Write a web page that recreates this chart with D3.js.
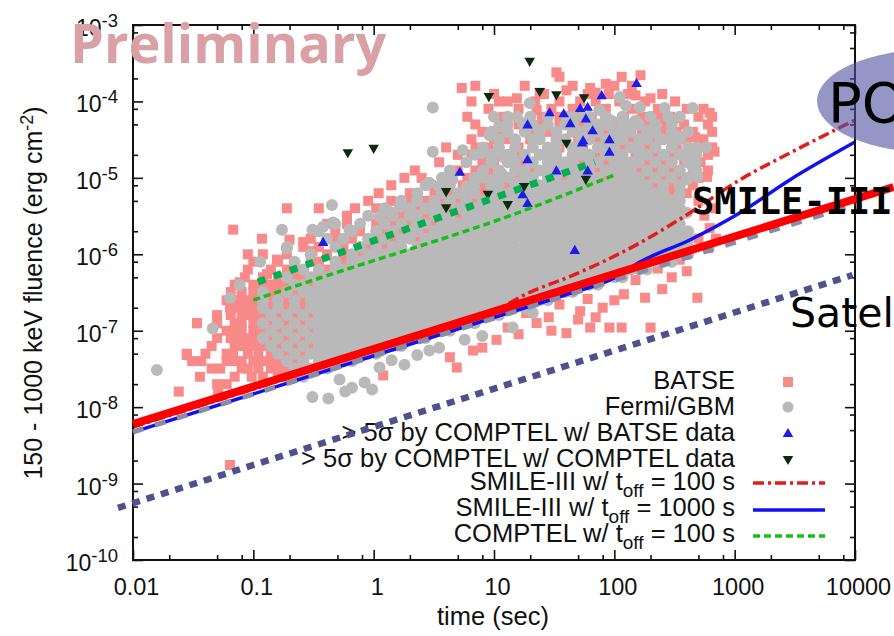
<!DOCTYPE html>
<html>
<head>
<meta charset="utf-8">
<script src="https://cdn.jsdelivr.net/npm/d3@7"></script>
<style>
  body { margin: 0; background: #fff; }
  svg { display: block; }
</style>
</head>
<body>
<svg id="chart" width="894" height="636"></svg>
<script>
// ---------- axis ticks ----------
const xTicks = [0.01, 0.1, 1, 10, 100, 1000, 10000];
const xTickLabels = ["0.01", "0.1", "1", "10", "100", "1000", "10000"];
const yTicks = [1e-10, 1e-9, 1e-8, 1e-7, 1e-6, 1e-5, 1e-4, 1e-3];
const yTickExponents = ["-10", "-9", "-8", "-7", "-6", "-5", "-4", "-3"];
const minorMultipliers = [2, 5, 8];

// ---------- BATSE bursts (time [s], fluence [erg cm^-2]) ----------
// grouped by fluence level: [fluence, [durations]]
const batseRows = [
  [1.6e-4, [7, 18, 45, 100, 140]],
  [1.25e-4, [10, 26, 60, 90, 130, 250]],
  [1e-4, [6.5, 11, 22, 35, 70, 110, 180, 320]],
  [8e-5, [9, 16, 30, 45, 85, 140, 230, 400, 550]],
  [6.3e-5, [6, 12, 25, 35, 50, 65, 120, 170, 210, 290, 500, 650]],
  [5e-5, [7, 16, 25, 35, 55, 75, 100, 140, 190, 270, 380, 600]],
  [4e-5, [8, 11, 22, 28, 45, 65, 85, 120, 170, 250, 330, 450, 650]],
  [3.2e-5, [6.5, 10, 13, 20, 33, 50, 75, 100, 140, 220, 300, 400, 550]],
  [2.5e-5, [4, 7, 9, 16, 35, 55, 85, 120, 190, 330, 500, 650]],
  [2e-5, [5, 6.5, 12, 15, 28, 45, 70, 100, 150, 220, 300, 450, 600]],
  [1.6e-5, [3.5, 8, 10, 17, 35, 55, 85, 120, 190, 260, 380, 520]],
  [1.25e-5, [2.2, 5, 7, 9, 20, 33, 45, 75, 100, 160, 220, 300, 450, 600]],
  [1e-5, [1.8, 2.5, 4.5, 6, 10.5, 15, 28, 39, 62, 85, 137, 187, 256, 350, 500]],
  [8e-6, [1.4, 3, 4, 5.5, 8, 13, 21, 33, 117, 220, 300, 450]],
  [6.3e-6, [1.1, 2, 3.2, 4.3, 5.9, 8.1, 11, 21, 300, 400]],
  [5e-6, [0.9, 1.4, 2, 2.7, 3.7, 5, 6.9, 9.5, 13, 18]],
  [4e-6, [0.35, 0.7, 1.05, 1.7, 2.3, 3.2, 4.3, 5.9, 8.1]],
  [3.2e-6, [0.6, 1.23, 1.7, 2.7, 3.7, 5, 6.9]],
  [2.5e-6, [0.41, 0.6, 1.05, 1.44, 2, 3.2, 4.3, 5.9]],
  [2e-6, [0.48, 0.77, 1.23, 1.7, 2.7, 3.7]],
  [1.6e-6, [0.3, 0.48, 0.66, 1.05, 1.44, 2.3]],
  [1.25e-6, [0.26, 0.35, 0.56, 0.9, 1.23]],
  [1e-6, [0.12, 0.19, 0.41, 0.56, 0.77, 1.05]],
  [8e-7, [0.1, 0.16, 0.3, 0.35, 0.56, 0.66]],
  [6.3e-7, [0.09, 0.14, 0.19, 0.22, 0.41]],
  [5e-7, [0.085, 0.12, 0.16, 0.22, 0.26, 0.35]],
  [4e-7, [0.07, 0.1, 0.12, 0.14, 0.16, 0.19, 0.3]],
  [3.2e-7, [0.065, 0.08, 0.1, 0.14, 0.16, 0.22]],
  [2.5e-7, [0.06, 0.07, 0.08, 0.09, 0.1, 0.14, 0.19, 0.26]],
  [2e-7, [0.064, 0.075, 0.085, 0.1, 0.11, 0.14, 0.19, 0.26, 0.35]],
  [1.6e-7, [0.05, 0.065, 0.08, 0.09, 0.1, 0.12, 0.16, 0.22, 0.3]],
  [1.25e-7, [0.034, 0.05, 0.07, 0.08, 0.1, 0.11, 0.14, 0.19, 0.26]],
  [1e-7, [0.06, 0.07, 0.08, 0.1, 0.118, 0.16, 0.22, 0.3]],
  [8e-8, [0.05, 0.065, 0.077, 0.09, 0.1, 0.14, 0.19, 0.26]],
  [6.3e-8, [0.045, 0.07, 0.08, 0.09, 0.1, 0.12, 0.16, 0.22, 0.3]],
  [5e-8, [0.028, 0.04, 0.06, 0.068, 0.09, 0.11, 0.14, 0.19, 0.26]],
  [4e-8, [0.031, 0.037, 0.06, 0.07, 0.08, 0.1, 0.12, 0.14, 0.16, 0.22]],
  [3.2e-8, [0.045, 0.053, 0.08, 0.09, 0.11, 0.14, 0.16, 0.19, 0.26]],
  [2.5e-8, [0.036, 0.07, 0.097, 0.12, 0.16, 0.19, 0.22]],
  [2e-8, [0.05, 0.06]],
  [1.6e-8, [0.024, 0.051]]
];
const batsePoints = [
  [0.064, 1.75e-9],
  [0.19, 4e-6], [0.068, 2.1e-6], [0.118, 1.6e-6], [0.2, 1.55e-6], [0.26, 1.45e-6], [0.31, 1.1e-6],
  [0.09, 1e-6], [0.157, 8.5e-7], [0.077, 4.3e-7], [0.13, 5.5e-7], [0.034, 1.26e-7], [0.028, 4.8e-8],
  [5.4, 1.5e-4], [15.5, 1.1e-4], [33, 2.4e-4], [35, 2.1e-4], [115, 2.1e-4], [165, 2.2e-4],
  [22.6, 7.7e-5], [63, 1.5e-4], [70, 1.3e-4], [200, 1.1e-4], [620, 7.1e-5], [680, 2.2e-5],
  [470, 3.4e-5], [590, 1.03e-5], [52, 1e-4], [13, 1e-4], [150, 1.2e-4], [85, 1.7e-4], [40, 1.4e-4],
  [24, 1.3e-4], [240, 6e-5], [330, 6e-5], [500, 5e-6], [197, 1e-6], [366, 1e-6], [560, 3.2e-6],
  [500, 1.6e-6], [620, 2.2e-6], [690, 4e-6],
  [490, 2.7e-7], [150, 4.6e-7], [200, 1.1e-7], [91, 1.1e-7], [63, 1.1e-7], [80, 2e-7],
  [40, 9.3e-8], [22.6, 1.26e-7], [13, 1.1e-7], [10.5, 7.6e-8], [6.7, 5.5e-8], [4.3, 4.5e-8],
  [4.9, 3.3e-8], [28.5, 1.5e-7], [18.5, 1.7e-7], [52, 1.8e-7], [115, 1.1e-7], [15.5, 2.5e-7],
  [1.2, 2.6e-8], [30, 1e-7], [50, 1.4e-7], [70, 1.5e-7], [100, 2.5e-7], [120, 3e-7],
  [180, 2.7e-7], [250, 3.5e-7], [300, 5e-7], [400, 6e-7], [8, 6e-8], [16, 9e-8], [35, 2.2e-7],
  [60, 2.6e-7], [230, 6.5e-7], [350, 8.5e-7], [600, 1.2e-6], [700, 1.6e-6]
];

// ---------- Fermi/GBM bursts ----------
const gbmRows = [
  [6.3e-5, [10, 20, 28, 45, 62, 85, 117, 200, 280, 350]],
  [5e-5, [13, 18, 21, 28, 39, 45, 62, 73, 85, 117, 137, 160, 220, 300]],
  [4e-5, [9.5, 13, 18, 24, 33, 45, 53, 73, 100, 117, 137, 187, 220, 300, 410]],
  [3.2e-5, [11, 15, 21, 24, 33, 39, 53, 62, 85, 100, 117, 160, 187, 256, 350]],
  [2.5e-5, [8.1, 11, 15, 21, 28, 33, 45, 53, 73, 85, 100, 137, 160, 220, 300, 410, 480]],
  [2e-5, [6.9, 9.5, 13, 18, 24, 28, 33, 45, 53, 62, 85, 100, 117, 160, 187, 256, 350, 480]],
  [1.6e-5, [5.9, 9.5, 13, 15, 21, 28, 33, 39, 45, 62, 73, 100, 117, 137, 160, 220, 300, 410]],
  [1.25e-5, [4.3, 8.1, 11, 15, 18, 24, 28, 39, 45, 53, 62, 85, 100, 117, 137, 187, 256, 350, 480]],
  [1e-5, [3.7, 6.9, 8.1, 11, 13, 18, 21, 28, 33, 45, 53, 62, 73, 100, 117, 137, 160, 220, 300, 410]],
  [8e-6, [2.7, 4.3, 6.9, 9.5, 11, 15, 18, 21, 24, 28, 33, 39, 45, 53, 62, 73, 85, 100, 117, 137, 160, 187, 256, 350]],
  [6.3e-6, [2.3, 3.7, 5, 6.9, 9.5, 11, 13, 15, 18, 21, 24, 28, 33, 39, 45, 53, 62, 73, 85, 100, 117, 137, 160, 187, 220, 256, 350]],
  [5e-6, [1.7, 2.3, 3.2, 4.3, 5.9, 8.1, 9.5, 11, 13, 15, 18, 21, 24, 28, 33, 39, 45, 53, 62, 73, 85, 100, 117, 137, 160, 187, 220, 256, 300]],
  [4e-6, [1.23, 2, 2.7, 3.2, 3.7, 5, 5.9, 6.9, 8.1, 9.5, 11, 13, 15, 18, 21, 24, 28, 33, 39, 45, 53, 62, 73, 85, 100, 117, 137, 160, 187, 220, 256, 300, 350]],
  [3.2e-6, [0.9, 1.44, 2, 2.3, 3.2, 3.7, 4.3, 5.9, 6.9, 8.1, 9.5, 11, 13, 15, 18, 21, 24, 28, 33, 39, 45, 53, 62, 73, 85, 100, 117, 137, 160, 187, 220, 256, 300, 350]],
  [2.5e-6, [0.48, 0.77, 1.23, 1.7, 2.3, 2.7, 3.7, 4.3, 5, 5.9, 6.9, 8.1, 9.5, 11, 13, 15, 18, 21, 24, 28, 33, 39, 45, 53, 62, 73, 85, 100, 117, 137, 160, 187, 220, 256, 300, 350]],
  [2e-6, [0.35, 0.66, 1.05, 1.44, 2, 2.3, 3.2, 3.7, 4.3, 5, 5.9, 6.9, 8.1, 9.5, 11, 13, 15, 18, 21, 24, 28, 33, 39, 45, 53, 62, 73, 85, 100, 117, 137, 160, 187, 220, 256, 300, 350, 410]],
  [1.6e-6, [0.41, 0.56, 0.9, 1.23, 1.7, 2, 2.7, 3.2, 3.7, 4.3, 5, 5.9, 6.9, 8.1, 9.5, 11, 13, 15, 18, 21, 24, 28, 33, 39, 45, 53, 62, 73, 85, 100, 117, 137, 160, 187, 220, 256, 300, 350, 410]],
  [1.25e-6, [0.19, 0.48, 0.77, 1.05, 1.44, 1.7, 2.3, 2.7, 3.2, 3.7, 4.3, 5, 5.9, 6.9, 8.1, 9.5, 11, 13, 15, 18, 21, 24, 28, 33, 39, 45, 53, 62, 73, 85, 100, 117, 137, 160, 187, 220, 256, 300, 350, 410]],
  [1e-6, [0.3, 0.66, 0.9, 1.05, 1.23, 1.44, 1.7, 2, 2.3, 2.7, 3.2, 3.7, 4.3, 5, 5.9, 6.9, 8.1, 9.5, 11, 13, 15, 18, 21, 24, 28, 33, 39, 45, 53, 62, 73, 85, 100, 117, 137, 160, 187, 220, 256, 300, 350, 410]],
  [8e-7, [0.114, 0.22, 0.48, 0.66, 0.77, 0.9, 1.05, 1.23, 1.44, 1.7, 2, 2.3, 2.7, 3.2, 3.7, 4.3, 5, 5.9, 6.9, 8.1, 9.5, 11, 13, 15, 18, 21, 24, 28, 33, 39, 45, 53, 62, 73, 85, 100, 117, 137, 160, 187, 220, 256, 300]],
  [6.3e-7, [0.26, 0.35, 0.48, 0.56, 0.66, 0.77, 0.9, 1.05, 1.23, 1.44, 1.7, 2, 2.3, 2.7, 3.2, 3.7, 4.3, 5, 5.9, 6.9, 8.1, 9.5, 11, 13, 15, 18, 21, 24, 28, 33, 39, 45, 53, 62, 73, 85, 100, 117, 137, 160, 187]],
  [5e-7, [0.19, 0.3, 0.41, 0.48, 0.56, 0.66, 0.77, 0.9, 1.05, 1.23, 1.44, 1.7, 2, 2.3, 2.7, 3.2, 3.7, 4.3, 5, 5.9, 6.9, 8.1, 9.5, 11, 13, 15, 18, 21, 24, 28, 33, 39, 45, 53, 62, 73, 85, 100, 117]],
  [4e-7, [0.077, 0.22, 0.26, 0.35, 0.41, 0.48, 0.56, 0.66, 0.77, 0.9, 1.05, 1.23, 1.44, 1.7, 2, 2.3, 2.7, 3.2, 3.7, 4.3, 5, 5.9, 6.9, 8.1, 9.5, 11, 13, 15, 18, 21, 24, 28, 33, 39, 45, 53, 62, 73]],
  [3.2e-7, [0.12, 0.19, 0.26, 0.3, 0.35, 0.41, 0.48, 0.56, 0.66, 0.77, 0.9, 1.05, 1.23, 1.44, 1.7, 2, 2.3, 2.7, 3.2, 3.7, 4.3, 5, 5.9, 6.9, 8.1, 9.5, 11, 13, 15, 18, 21, 24, 28, 33, 39, 45]],
  [2.5e-7, [0.12, 0.16, 0.22, 0.3, 0.35, 0.41, 0.48, 0.56, 0.66, 0.77, 0.9, 1.05, 1.23, 1.44, 1.7, 2, 2.3, 2.7, 3.2, 3.7, 4.3, 5, 5.9, 6.9, 8.1, 9.5, 11, 13, 15, 18, 21, 24, 28]],
  [2e-7, [0.12, 0.16, 0.22, 0.3, 0.35, 0.41, 0.48, 0.56, 0.66, 0.77, 0.9, 1.05, 1.23, 1.44, 1.7, 2, 2.3, 2.7, 3.2, 3.7, 4.3, 5, 5.9, 6.9, 8.1, 9.5, 11, 13, 15, 18]],
  [1.6e-7, [0.14, 0.19, 0.26, 0.35, 0.41, 0.48, 0.56, 0.66, 0.77, 0.9, 1.05, 1.23, 1.44, 1.7, 2, 2.3, 2.7, 3.2, 3.7, 4.3, 5, 5.9, 6.9, 8.1, 9.5, 11]],
  [1.25e-7, [0.12, 0.16, 0.22, 0.3, 0.35, 0.41, 0.48, 0.56, 0.66, 0.77, 0.9, 1.05, 1.23, 1.44, 1.7, 2, 2.3, 2.7, 3.2, 3.7, 4.3, 5, 5.9, 6.9]],
  [1e-7, [0.14, 0.19, 0.26, 0.35, 0.41, 0.48, 0.56, 0.66, 0.77, 0.9, 1.05, 1.23, 1.44, 1.7, 2, 2.3, 2.7, 3.2, 3.7, 4.3]],
  [8e-8, [0.12, 0.16, 0.22, 0.3, 0.35, 0.41, 0.48, 0.56, 0.66, 0.77, 0.9, 1.05, 1.23, 1.44, 1.7, 2, 2.3, 2.7]],
  [6.3e-8, [0.14, 0.19, 0.26, 0.35, 0.41, 0.48, 0.56, 0.66, 0.77, 0.9, 1.05, 1.23, 1.44, 1.7]],
  [5e-8, [0.16, 0.22, 0.3, 0.35, 0.41, 0.48, 0.56, 0.66, 0.77, 0.9, 1.05]],
  [4e-8, [0.19, 0.26, 0.35, 0.41, 0.48, 0.56, 0.66]],
  [3.2e-8, [0.22, 0.3, 0.35, 0.41]],
  [2.5e-8, [0.26]]
];
const gbmPoints = [
  [0.0158, 3.06e-8], [0.046, 1.07e-7], [0.064, 2.7e-7], [0.173, 2.1e-6], [0.19, 1.2e-6],
  [0.31, 2.1e-6], [0.38, 2.3e-6], [0.45, 4.4e-6], [0.46, 2.6e-6], [0.63, 2.1e-6], [1.12, 3.1e-6],
  [1.36, 3.6e-6], [1.65, 4.2e-6], [2.9, 8.6e-6], [3.5, 7.7e-6], [5.5, 6e-6], [4.5, 9.5e-6],
  [5.9, 7.7e-6], [7.2, 1e-5], [9.8, 9.5e-6], [11.5, 1.14e-5], [15.5, 8.6e-6], [11.7, 1.9e-5],
  [14.3, 1.8e-5], [9.2, 3.6e-5], [13, 6.3e-5], [15.5, 6.3e-5], [3.1, 8.3e-5], [3.1, 2.2e-5],
  [5.5, 2.3e-5], [8, 2.1e-5], [19.8, 9.5e-5], [24, 4.2e-5], [11, 4.7e-5], [17.5, 5.2e-5],
  [40, 6.3e-5], [55, 6.3e-5], [75, 7.7e-5], [95, 5.6e-5], [111, 1.14e-4], [125, 8.8e-5],
  [150, 5.6e-5], [163, 8.4e-5], [197, 4.2e-5], [262, 8.2e-5], [305, 3.4e-5], [350, 3.4e-5],
  [448, 8.2e-5], [580, 2.5e-5], [420, 1.56e-5], [480, 1.6e-5], [490, 1.03e-5], [400, 9.5e-6],
  [450, 1.4e-5], [300, 4.7e-6], [366, 1.96e-6], [240, 3.2e-5], [400, 1.8e-5],
  [350, 2.2e-6], [400, 3.5e-6], [350, 5e-6],
  [0.31, 1.36e-8], [0.42, 1.3e-8], [0.52, 2.3e-8], [0.58, 1.6e-8], [0.66, 1.8e-8],
  [0.84, 2.1e-8], [0.97, 1.7e-8], [1.12, 3.3e-8], [1.41, 4.1e-8], [1.8, 3.6e-8], [2.3, 4.8e-8],
  [2.9, 5.5e-8], [3.5, 6e-8], [5.7, 7.6e-8], [14.3, 1.1e-7], [21, 1.7e-7], [8, 8.5e-8]
];

// ---------- COMPTEL detections ----------
const comptelBatse = [
  [153, 1.74e-4], [78.5, 1.21e-4], [52, 8.2e-5], [60, 8.5e-5], [29, 7.2e-5], [38, 7.0e-5],
  [43, 5.2e-5], [58, 6.0e-5], [19, 5.0e-5], [66, 4.2e-5], [54, 2.9e-5], [55, 3.1e-5],
  [91, 3.2e-5], [91, 2.2e-5], [19, 1.75e-5], [33, 1.25e-5], [60, 1.25e-5], [5.2, 1.2e-5],
  [17.3, 6.1e-6], [19, 4.7e-6], [46.9, 1.14e-6], [0.38, 1.45e-6]
];
const comptelOwn = [
  [0.61, 2.1e-5], [1.0, 2.4e-5], [4.0, 6.5e-6], [4.0, 4.0e-6], [9.06, 1.14e-4], [19.8, 3.3e-4],
  [24, 1.33e-4], [33, 1.2e-4], [56, 1.1e-4], [40, 2.8e-5], [58, 9.4e-6], [8.9, 6.0e-6],
  [13, 4.4e-6], [17.8, 7.6e-6]
];

// ---------- sensitivity curves ----------
const smileOff100 = [[0.01, 5.5e-9], [1, 5.5e-8], [10, 1.8e-7], [20, 3.2e-7], [40, 4.9e-7],
  [163, 1.41e-6], [423, 3.47e-6], [1100, 9.4e-6], [2870, 2.11e-5], [10000, 5.7e-5]];
const smileOff1000 = [[0.01, 4.7e-9], [1, 4.7e-8], [10, 1.49e-7], [40, 2.98e-7], [100, 4.9e-7],
  [163, 7.9e-7], [423, 1.54e-6], [1100, 3.47e-6], [2870, 9.4e-6], [10000, 2.94e-5]];
const comptelOff100 = [[0.1, 2.52e-7], [0.357, 4.9e-7], [16.4, 3.57e-6], [100, 1.09e-5]];

// annotation lines
const balloonLine = [[0.01, 4.73e-9], [10900, 4.69e-6]];
const smileLine = [[0.01, 6.0e-9], [20900, 7.6e-6]];
const satelliteLine = [[0.0075, 4.8e-10], [9550, 5.35e-7]];
const comptelLine = [[0.109, 4.34e-7], [68.7, 1.61e-5]];

const legendLabels = [
  ["BATSE"], ["Fermi/GBM"], ["> 5σ by COMPTEL w/ BATSE data"], ["> 5σ by COMPTEL w/ COMPTEL data"],
  ["SMILE-III w/ t", "off", " = 100 s"], ["SMILE-III w/ t", "off", " = 1000 s"], ["COMPTEL w/ t", "off", " = 100 s"]
];

// ---------- drawing ----------
const FONT = "'Liberation Sans', Arial, Helvetica, sans-serif";
const svg = d3.select("#chart");
const x = d3.scaleLog().domain([0.01, 1e4]).range([133, 855]);
const y = d3.scaleLog().domain([1e-10, 1e-3]).range([560, 25]);

const fromRows = rows => rows.flatMap(([f, ts]) => ts.map(t => [t, f]));
const batseAll = fromRows(batseRows).concat(batsePoints);
const gbmAll = fromRows(gbmRows).concat(gbmPoints);

const colors = {
  batse: "#f98a8a", gbm: "#b9b9b9", tri: "#1c1ce8", dtri: "#0c2a0c",
  smile100: "#e41c1c", smile1000: "#1212f0", comptel: "#16c016"
};

const data = svg.append("g");
data.selectAll("rect.batse").data(batseAll).join("rect")
  .attr("class", "batse")
  .attr("x", d => x(d[0]) - 5).attr("y", d => y(d[1]) - 5)
  .attr("width", 10).attr("height", 10).attr("fill", colors.batse);

data.selectAll("circle.gbm").data(gbmAll).join("circle")
  .attr("class", "gbm")
  .attr("cx", d => x(d[0])).attr("cy", d => y(d[1])).attr("r", 6)
  .attr("fill", colors.gbm);

const triUp = d3.symbol().type(d3.symbolTriangle).size(48);
data.selectAll("path.tri").data(comptelBatse).join("path")
  .attr("class", "tri").attr("d", triUp)
  .attr("transform", d => `translate(${x(d[0])},${y(d[1]) + 1})`)
  .attr("fill", colors.tri);
data.selectAll("path.dtri").data(comptelOwn).join("path")
  .attr("class", "dtri").attr("d", triUp)
  .attr("transform", d => `translate(${x(d[0])},${y(d[1]) - 1}) rotate(180)`)
  .attr("fill", colors.dtri);

const line = d3.line().x(d => x(d[0])).y(d => y(d[1])).curve(d3.curveMonotoneX);
const straight = d3.line().x(d => x(d[0])).y(d => y(d[1]));

function curve(points, color, width, dash) {
  svg.append("path").attr("d", line(points)).attr("fill", "none")
    .attr("stroke", color).attr("stroke-width", width)
    .attr("stroke-dasharray", dash || null);
}
curve(smileOff1000, colors.smile1000, 3.5);
curve(smileOff100, colors.smile100, 3.5, "11,4,3,4");
curve(comptelOff100, colors.comptel, 3.5, "7,4");

// ---------- axes ----------
const minors = [];
for (let e = -2; e < 4; e++) minorMultipliers.forEach(m => minors.push(m * Math.pow(10, e)));
const yMinors = [];
for (let e = -10; e < -3; e++) minorMultipliers.forEach(m => yMinors.push(m * Math.pow(10, e)));

function styleAxis(g) {
  g.select(".domain").remove();
  g.selectAll("line").attr("stroke", "#111").attr("stroke-width", 1.6);
  g.attr("font-family", FONT);
}
const axes = svg.append("g");
axes.append("g").attr("transform", "translate(0,560)")
  .call(d3.axisBottom(x).tickValues(xTicks).tickSize(-10).tickPadding(18)
    .tickFormat((d, i) => xTickLabels[i]))
  .call(styleAxis)
  .call(g => g.selectAll("text").attr("font-size", 23.5).attr("fill", "#111").attr("dx", 3));
axes.append("g").attr("transform", "translate(0,560)")
  .call(d3.axisBottom(x).tickValues(minors).tickSize(-5).tickFormat("")).call(styleAxis);
axes.append("g").attr("transform", "translate(0,25)")
  .call(d3.axisTop(x).tickValues(xTicks).tickSize(-10).tickFormat("")).call(styleAxis);
axes.append("g").attr("transform", "translate(0,25)")
  .call(d3.axisTop(x).tickValues(minors).tickSize(-5).tickFormat("")).call(styleAxis);
axes.append("g").attr("transform", "translate(133,0)")
  .call(d3.axisLeft(y).tickValues(yTicks).tickSize(-10).tickFormat("")).call(styleAxis);
axes.append("g").attr("transform", "translate(133,0)")
  .call(d3.axisLeft(y).tickValues(yMinors).tickSize(-5).tickFormat("")).call(styleAxis);
axes.append("g").attr("transform", "translate(855,0)")
  .call(d3.axisRight(y).tickValues(yTicks).tickSize(-10).tickFormat("")).call(styleAxis);
axes.append("g").attr("transform", "translate(855,0)")
  .call(d3.axisRight(y).tickValues(yMinors).tickSize(-5).tickFormat("")).call(styleAxis);

svg.append("rect").attr("x", 133).attr("y", 25).attr("width", 722).attr("height", 535)
  .attr("fill", "none").attr("stroke", "#111").attr("stroke-width", 2);

// y tick labels: 10 with exponent
yTicks.forEach((v, i) => {
  const t = svg.append("text").attr("x", 118).attr("y", y(v) + 11)
    .attr("text-anchor", "end").attr("font-family", FONT).attr("font-size", 23).attr("fill", "#111");
  t.append("tspan").text("10");
  t.append("tspan").attr("dy", -9).attr("font-size", 18.5).text(yTickExponents[i]);
});

// axis titles
svg.append("text").attr("x", 493).attr("y", 625).attr("text-anchor", "middle")
  .attr("font-family", FONT).attr("font-size", 25.5).attr("fill", "#111").text("time (sec)");
const yl = svg.append("text").attr("transform", "translate(42,293) rotate(-90)")
  .attr("text-anchor", "middle").attr("font-family", FONT).attr("font-size", 25).attr("fill", "#111");
yl.append("tspan").text("150 - 1000 keV fluence (erg cm");
yl.append("tspan").attr("dy", -9).attr("font-size", 18).text("-2");
yl.append("tspan").attr("dy", 9).text(")");

// ---------- legend ----------
const legendBase = [389, 415, 441, 467, 490, 516, 542];
legendLabels.forEach((parts, i) => {
  const t = svg.append("text").attr("x", 735).attr("y", legendBase[i]).attr("text-anchor", "end")
    .attr("font-family", FONT).attr("font-size", 25.5).attr("fill", "#111");
  t.append("tspan").text(parts[0]);
  if (parts.length > 1) {
    t.append("tspan").attr("dy", 7).attr("font-size", 19).text(parts[1]);
    t.append("tspan").attr("dy", -7).text(parts[2]);
  }
});
const lg = svg.append("g");
lg.append("rect").attr("x", 783).attr("y", 377).attr("width", 10).attr("height", 10).attr("fill", colors.batse);
lg.append("circle").attr("cx", 788).attr("cy", 407).attr("r", 5.5).attr("fill", colors.gbm);
lg.append("path").attr("d", triUp).attr("transform", "translate(788,434)").attr("fill", colors.tri);
lg.append("path").attr("d", triUp).attr("transform", "translate(788,459) rotate(180)").attr("fill", colors.dtri);
[[colors.smile100, "11,4,3,4", 483], [colors.smile1000, null, 510], [colors.comptel, "7,4", 536]]
  .forEach(([c, dash, yy]) => {
    lg.append("line").attr("x1", 753).attr("x2", 825).attr("y1", yy).attr("y2", yy)
      .attr("stroke", c).attr("stroke-width", 3.5).attr("stroke-dasharray", dash);
  });

// ---------- annotations ----------
const ann = svg.append("g");
ann.append("path").attr("d", straight(balloonLine)).attr("fill", "none")
  .attr("stroke", "#878caa").attr("stroke-width", 5).attr("stroke-dasharray", "11,12");
ann.append("path").attr("d", straight(smileLine)).attr("fill", "none")
  .attr("stroke", "#ff0000").attr("stroke-width", 8);
ann.append("path").attr("d", straight(satelliteLine)).attr("fill", "none")
  .attr("stroke", "#4d518c").attr("stroke-width", 6.5).attr("stroke-dasharray", "8,7");
ann.append("path").attr("d", straight(comptelLine)).attr("fill", "none")
  .attr("stroke", "#00b050").attr("stroke-width", 7).attr("stroke-dasharray", "8,9");

ann.append("text").attr("x", 70).attr("y", 63).attr("font-family", "'Open Sans', sans-serif")
  .attr("font-weight", 700).attr("font-size", 54).attr("fill", "#d9a0a5").text("Preliminary");

ann.append("ellipse").attr("cx", 935).attr("cy", 101).attr("rx", 118).attr("ry", 52)
  .attr("fill", "rgb(80,80,160)").attr("fill-opacity", 0.6);
ann.append("text").attr("x", 828).attr("y", 122).attr("font-family", "'DejaVu Sans', sans-serif")
  .attr("font-size", 56).attr("fill", "#000").text("POLAR");
ann.append("text").attr("x", 692).attr("y", 214).attr("font-family", "'DejaVu Sans Mono', monospace")
  .attr("font-weight", 700).attr("font-size", 37).attr("fill", "#000").text("SMILE-III");
ann.append("text").attr("x", 790).attr("y", 327).attr("font-family", "'DejaVu Sans', sans-serif")
  .attr("font-size", 41).attr("fill", "#000").text("Satellite");
</script>
</body>
</html>
